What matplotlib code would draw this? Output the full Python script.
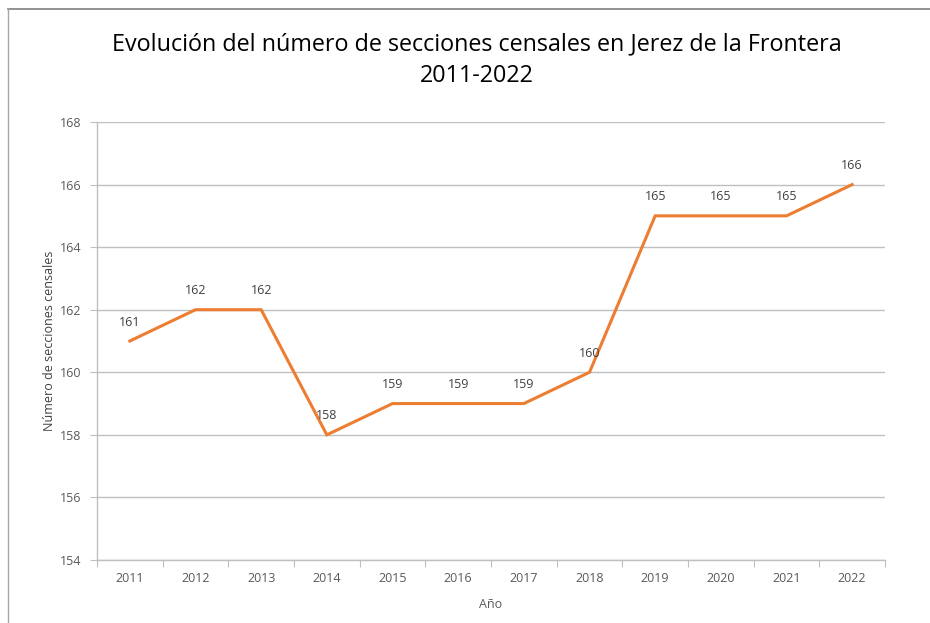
import matplotlib.pyplot as plt
from matplotlib.lines import Line2D
import numpy as np

plt.rcParams['font.family'] = ['Open Sans', 'DejaVu Sans']

years = ["2011", "2012", "2013", "2014", "2015", "2016",
         "2017", "2018", "2019", "2020", "2021", "2022"]
secciones = [161, 162, 162, 158, 159, 159, 159, 160, 165, 165, 165, 166]
y_ticks = [154, 156, 158, 160, 162, 164, 166, 168]

GRAY_TXT = "#595959"
GRID = "#BFBFBF"
ORANGE = "#ED7D31"

fig = plt.figure(figsize=(9.30, 6.23), dpi=100)
ax = fig.add_axes([97 / 930, 1 - 560 / 623, 788 / 930, 438 / 623])

x = np.arange(len(years))
ax.plot(x, secciones, color=ORANGE, lw=2.2, solid_joinstyle="miter")
for xi, v in zip(x, secciones):
    ax.annotate(str(v), (xi, v), xytext=(0, 9), textcoords="offset points",
                ha="center", va="bottom", fontsize=9, color="#404040")

ax.set_xlim(-0.5, len(years) - 0.5)
ax.set_ylim(154, 168)
ax.set_yticks(y_ticks)
ax.set_yticklabels([str(t) for t in y_ticks])
ax.yaxis.grid(True, color=GRID, lw=1)
ax.set_axisbelow(True)

# category ticks at boundaries, labels centred
ax.set_xticks(np.arange(-0.5, len(years), 1.0))
ax.set_xticklabels([])
ax.set_xticks(x, minor=True)
ax.set_xticklabels(years, minor=True)
ax.tick_params(axis="x", which="major", length=5, color=GRID, direction="out")
ax.tick_params(axis="x", which="minor", length=0, pad=9, labelsize=9, labelcolor=GRAY_TXT)
ax.tick_params(axis="y", length=5, color=GRID, pad=6, labelsize=9, labelcolor=GRAY_TXT)

for side in ["top", "right"]:
    ax.spines[side].set_visible(False)
for side in ["left", "bottom"]:
    ax.spines[side].set_color(GRID)
    ax.spines[side].set_linewidth(1)

ax.set_xlabel("Año", fontsize=9, color=GRAY_TXT, labelpad=9)
ax.set_ylabel("Número de secciones censales", fontsize=9, color="#404040", labelpad=3)

fig.text(477 / 930, 1 - 60 / 623,
         "Evolución del número de secciones censales en Jerez de la Frontera\n2011-2022",
         ha="center", va="center", fontsize=16.8, color="#000000", linespacing=1.4)

# outer frame (top and left edge of the chart area)
fig.add_artist(Line2D([8 / 930, 1], [1 - 9 / 623, 1 - 9 / 623], color="#7F7F7F", lw=1.2))
fig.add_artist(Line2D([8 / 930, 8 / 930], [0, 1 - 9 / 623], color="#A6A6A6", lw=1))

fig.savefig("out.png", dpi=100)
